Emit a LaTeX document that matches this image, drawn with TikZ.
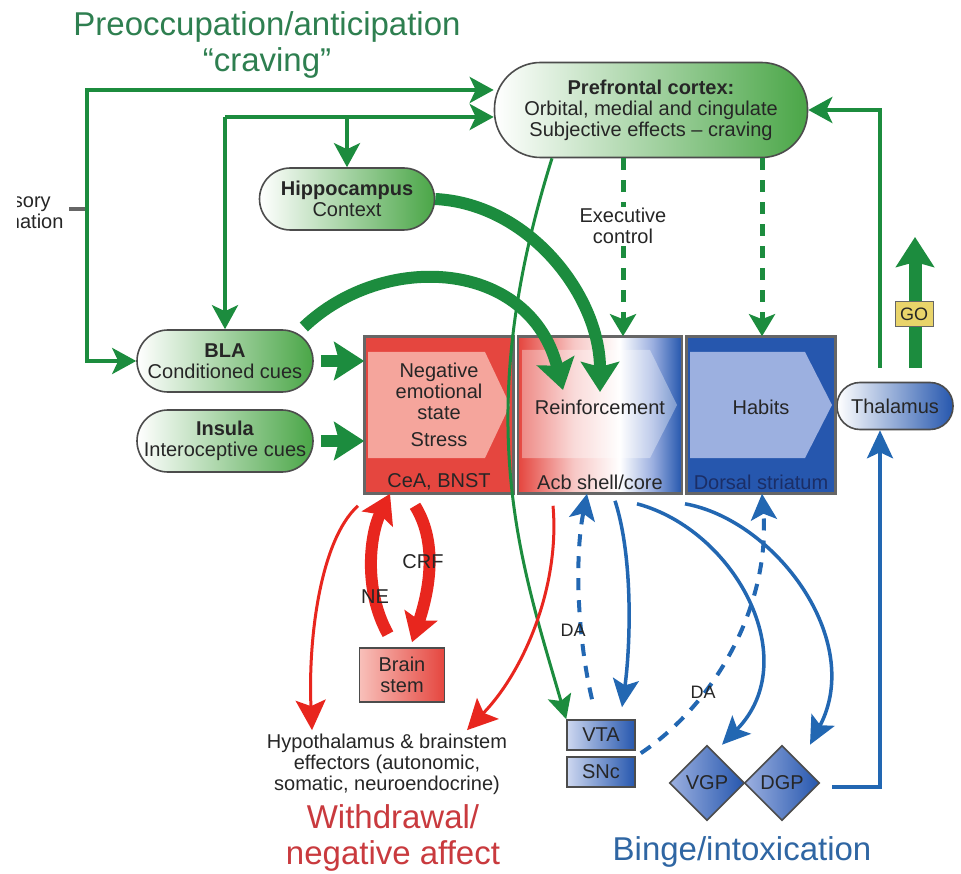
\documentclass[tikz,border=0pt]{standalone}
\usepackage{fontspec}
\setmainfont{Liberation Sans}
\usetikzlibrary{shapes.geometric, arrows.meta, positioning}

\definecolor{ngreen}{HTML}{1C8C3E}
\definecolor{lgreen}{HTML}{4AA647}
\definecolor{tgreen}{HTML}{2E7F50}
\definecolor{nred}{HTML}{E8261E}
\definecolor{tred}{HTML}{C93A3E}
\definecolor{boxred}{HTML}{E5463F}
\definecolor{chevred}{HTML}{F5A59C}
\definecolor{nblue}{HTML}{2267B2}
\definecolor{tblue}{HTML}{2F66A3}
\definecolor{boxblue}{HTML}{2657AE}
\definecolor{chevblue}{HTML}{9CB0E0}
\definecolor{navy}{HTML}{1B2E66}
\definecolor{goyellow}{HTML}{E9D46A}

\pgfdeclarehorizontalshading{acbshade}{100bp}{color(0bp)=(boxred); color(25bp)=(boxred);
    color(42bp)=(boxred!30!white); color(56bp)=(white); color(66bp)=(chevblue); color(75bp)=(boxblue); color(100bp)=(boxblue)}

\begin{document}
\begin{tikzpicture}[x=1pt, y=-1pt,
    every node/.style={text=black!85},
    body/.style={font=\fontsize{20}{21}\selectfont, align=center},
    title/.style={font=\fontsize{33}{36}\selectfont, align=center},
    pill/.style={body, draw=black!70, line width=1.6pt, rectangle, rounded corners=#1, inner sep=0pt},
    greenpill/.style={pill=#1, left color=white, right color=lgreen},
    bluepill/.style={pill=#1, left color=white, right color=boxblue},
    region/.style={draw=black!60, line width=1.6pt, minimum height=156pt, inner sep=0pt},
    smallbox/.style={body, draw=black!70, line width=1.6pt, inner sep=0pt, minimum width=68pt, minimum height=30pt, left color=chevblue!50!white, right color=boxblue},
    gpdiamond/.style={body, diamond, draw=black!70, line width=1.6pt, inner sep=0pt, minimum size=75pt, left color=chevblue, right color=boxblue},
    gline/.style={ngreen, line width=4pt, -{Stealth[length=24pt, width=26pt, inset=6pt]}},
    gthin/.style={ngreen, line width=3pt, -{Stealth[length=24pt, width=24pt, inset=5pt]}},
    gfat/.style={ngreen, line width=12pt, -{Stealth[length=30pt, width=38pt, inset=5pt]}},
    gdash/.style={ngreen, line width=5pt, dash pattern=on 12pt off 10pt, -{Stealth[length=22pt, width=26pt, inset=5pt]}},
    rfat/.style={nred, line width=12pt, -{Stealth[length=28pt, width=34pt, inset=5pt]}},
    rthin/.style={nred, line width=3pt, -{Stealth[length=30pt, width=30pt, inset=6pt]}},
    bline/.style={nblue, line width=3.5pt, -{Stealth[length=28pt, width=26pt, inset=6pt]}},
    bdash/.style={nblue, line width=4pt, dash pattern=on 12pt off 10pt, -{Stealth[length=26pt, width=26pt, inset=6pt]}},
    boxtext/.style={body, inner sep=1pt}
]
\useasboundingbox[fill=white] (0,0) rectangle (961,874);

% stage titles
\node[title, text=tgreen] (pretitle) at (267,45) {Preoccupation/anticipation\\“craving”};
\node[title, text=tred] (withtitle) at (393,838) {Withdrawal/\\negative affect};
\node[title, text=tblue] (bingetitle) at (742,852) {Binge/intoxication};

% cortical and limbic inputs
\node[greenpill=46pt, minimum width=313pt, minimum height=95pt] (pfc) at (651,110)
    {\textbf{Prefrontal cortex:}\\Orbital, medial and cingulate\\Subjective effects -- craving};
\node[greenpill=31pt, minimum width=175pt, minimum height=62pt] (hippo) at (347,199) {\textbf{Hippocampus}\\Context};
\node[greenpill=31pt, minimum width=176pt, minimum height=62pt] (bla) at (225,361) {\textbf{BLA}\\Conditioned cues};
\node[greenpill=31pt, minimum width=176pt, minimum height=62pt] (insula) at (225,441) {\textbf{Insula}\\Interoceptive cues};
\node[bluepill=23pt, minimum width=116pt, minimum height=47pt] (thal) at (895,406) {Thalamus};

% sensory input, cut off as in the source
\begin{scope}
    \clip (17,0) rectangle (961,874);
    \node[body] (sens) at (14,211) {Sensory\\information};
\end{scope}

% the three regions
\node[region, fill=boxred, minimum width=148pt] (cea) at (439,415) {};
\fill[chevred] (368,352) -- (485,352) -- (510,405) -- (485,458) -- (368,458) -- cycle;
\node[region, shading=acbshade, minimum width=163pt] (acb) at (600,415) {};
\fill[white, opacity=0.35] (522,350) -- (650,350) -- (677,405) -- (650,458) -- (522,458) -- cycle;
\node[region, fill=boxblue, minimum width=148pt] (dstr) at (761,415) {};
\fill[chevblue] (690,352) -- (805,352) -- (832,405) -- (805,458) -- (690,458) -- cycle;
\draw[black!60, line width=1.6pt] (cea.north west) rectangle (cea.south east);
\draw[black!60, line width=1.6pt] (acb.north west) rectangle (acb.south east);
\draw[black!60, line width=1.6pt] (dstr.north west) rectangle (dstr.south east);

\node[boxtext] (ceatxt) at (439,405) {Negative\\emotional\\state\\[6pt]Stress};
\node[boxtext, above=3pt of cea.south] (cealbl) {CeA, BNST};
\node[boxtext] (acbtxt) at (600,407) {Reinforcement};
\node[boxtext, above=3pt of acb.south] (acblbl) {Acb shell/core};
\node[boxtext] (dstrtxt) at (761,407) {Habits};
\node[boxtext, text=navy, above=3pt of dstr.south] (dstrlbl) {Dorsal striatum};

% brainstem, midbrain, pallidum
\node[body, draw=black!70, line width=1.6pt, inner sep=0pt, minimum width=85pt, minimum height=54pt,
    left color=chevred!70!white, right color=boxred] (brainstem) at (402,675) {Brain\\stem};
\node[body] (hypo) at (387,764) {Hypothalamus \& brainstem\\effectors (autonomic,\\somatic, neuroendocrine)};
\node[smallbox] (vta) at (601,735) {VTA};
\node[smallbox] (snc) at (601,772) {SNc};
\node[gpdiamond] (vgp) at (707,783) {VGP};
\node[gpdiamond] (dgp) at (782,783) {DGP};

% green loops to the cortex
\coordinate (sensend) at (69,209);
\coordinate (sensjoin) at (87,209);
\coordinate (innerjoin) at (225,117);
\coordinate (goend) at (915,237);
\draw[black!60, line width=3.5pt] (sensend) -- (sensjoin);
\draw[gline] (sensjoin) |- ([yshift=20pt]pfc.west);
\draw[gline] (sensjoin) |- (bla.west);
\draw[gline] (innerjoin) -- ([yshift=-7pt]pfc.west);
\draw[gline] (innerjoin) -- (bla.north);
\draw[gline] (hippo.north |- innerjoin) -- (hippo.north);
\draw[gline] ([shift={(-15,-14)}]thal.north) |- (pfc.east);
\draw[gfat, line width=13pt] ([shift={(20,-14)}]thal.north) -- (goend);
\node[draw=black!60, fill=goyellow, inner sep=1pt, minimum width=38pt, minimum height=25pt,
    font=\fontsize{18}{18}\selectfont] (go) at (914,314) {GO};

% inputs to the extended amygdala and accumbens
\draw[gfat] ([xshift=7pt]bla.east) -- (cea.west |- bla.east);
\draw[gfat] ([xshift=7pt]insula.east) -- (cea.west |- insula.east);
\draw[gfat] ([shift={(-10,-34)}]bla.east) .. controls (385,250) and (530,260) .. ([shift={(-37,-25)}]acb.center);
\draw[gfat] (hippo.east) .. controls +(95,5) and +(0,-95) .. ([yshift=23pt]acb.center);
\draw[gthin] ([xshift=-99pt]pfc.south) .. controls (470,420) and (520,560) .. (vta.north west);
\draw[gdash] ([xshift=-28pt]pfc.south) -- ([xshift=23pt]acb.north);
\draw[gdash] ([xshift=111pt]pfc.south) -- ([xshift=1pt]dstr.north);
\node[body, fill=white, inner sep=1pt] (exec) at (623,226) {Executive\\control};

% withdrawal circuit
\draw[rfat] ([shift={(-14,-13)}]brainstem.north) .. controls +(-25,-45) and +(-20,40) .. ([xshift=-49pt]cea.south);
\draw[rfat] ([shift={(-24,12)}]cea.south) .. controls +(25,40) and +(15,-45) .. ([shift={(10,-5)}]brainstem.north);
\node[body] (ne) at (375,597) {NE};
\node[body] (crf) at (423,562) {CRF};
\draw[rthin] ([shift={(-81,12)}]cea.south) .. controls (320,540) and (308,640) .. ([xshift=-75pt]hypo.north);
\draw[rthin] ([shift={(-47,12)}]acb.south) .. controls (560,585) and (525,670) .. ([xshift=80pt]hypo.north);

% binge circuit
\draw[bdash] ([shift={(-9,-20)}]vta.north) .. controls (578,640) and (574,560) .. ([xshift=-13pt]acb.south);
\draw[bline] ([shift={(15,7)}]acb.south) .. controls (634,560) and (630,650) .. ([shift={(21,-12)}]vta.north);
\draw[bline] ([shift={(37,10)}]acb.south) .. controls (735,530) and (805,660) .. ([xshift=15pt]vgp.north);
\draw[bline] ([shift={(-76,10)}]dstr.south) .. controls (775,520) and (865,640) .. ([xshift=28pt]dgp.north);
\draw[bdash] ([shift={(5,-3)}]snc.north east) .. controls (720,700) and (770,600) .. ([xshift=1pt]dstr.south);
\node[body, font=\fontsize{18}{18}\selectfont] (da1) at (573,630) {DA};
\node[body, font=\fontsize{18}{18}\selectfont] (da2) at (703,692) {DA};
\draw[bline] ([shift={(12,4)}]dgp.east) -| ([xshift=-15pt]thal.south);
\end{tikzpicture}
\end{document}
